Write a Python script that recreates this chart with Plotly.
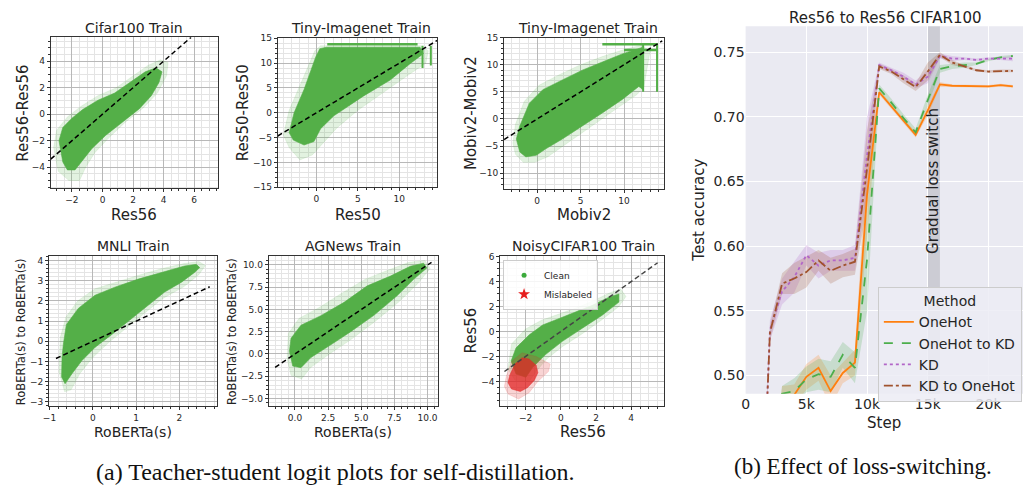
import plotly.graph_objects as go

W, H = 1023, 493

# ---------------- scatter clouds (outlines of dense core and sparse halo) ----------------
cifar_core_x = [-2.6, -2.85, -2.6, -2.0, -1.3, -0.3, 0.8, 1.9, 2.8, 3.5, 3.9, 3.7, 3.2, 2.4, 1.3, 0.2, -0.7, -1.35, -1.8, -2.3]
cifar_core_y = [-3.6, -2.0, -1.0, -0.3, 0.35, 1.05, 1.6, 2.5, 3.2, 3.5, 3.2, 2.4, 1.4, 0.4, -0.6, -1.6, -2.6, -3.6, -4.2, -4.2]
cifar_halo_x = [-2.9, -3.2, -3.0, -2.3, -1.4, -0.3, 0.9, 2.0, 3.0, 3.8, 4.3, 4.2, 3.6, 2.7, 1.5, 0.4, -0.5, -1.1, -1.5, -2.2]
cifar_halo_y = [-4.3, -2.5, -1.2, -0.2, 0.6, 1.4, 2.0, 2.9, 3.7, 4.1, 3.9, 2.9, 1.6, 0.5, -0.6, -1.8, -2.9, -4.0, -5.0, -5.0]

res50_core_x = [-3.3, -2.7, -1.5, -0.7, -0.1, 0.4, 1.2, 12.5, 12.9, 11.3, 8.9, 5.7, 2.1, 0.5, -0.3, -1.5, -2.8]
res50_core_y = [-4.0, 0.0, 4.7, 8.6, 11.2, 12.9, 13.2, 13.2, 11.9, 9.9, 6.6, 3.4, -0.6, -3.2, -5.8, -6.5, -5.5]
res50_halo_x = [-4.0, -3.3, -2.0, -1.0, -0.2, 0.5, 12.6, 13.5, 13.2, 11.0, 8.0, 5.0, 2.5, 0.8, -0.5, -2.0, -3.3]
res50_halo_y = [-4.5, 0.5, 5.5, 9.5, 12.5, 13.5, 13.5, 12.5, 10.0, 7.5, 4.0, 0.5, -3.0, -6.0, -8.5, -9.5, -7.0]
res50_hstripes = [(1.3, 12.2, 13.8)]
res50_vstripes = [(12.8, 9.0, 13.5), (13.8, 9.5, 13.5)]

mob_core_x = [-2.4, -2.0, -0.9, 0.65, 2.9, 5.2, 7.5, 9.8, 12.1, 12.2, 11.7, 9.8, 7.5, 5.2, 2.9, 1.0, -0.1, -1.3, -2.0]
mob_core_y = [-3.7, -1.3, 2.9, 5.4, 7.2, 9.0, 10.5, 12.0, 13.2, 5.4, 6.0, 3.6, 1.1, -1.3, -3.7, -5.5, -6.7, -7.0, -6.1]
mob_halo_x = [-2.8, -2.5, -1.5, 0.2, 2.6, 5.0, 7.5, 10.0, 12.0, 13.0, 12.3, 11.5, 9.5, 7.2, 5.0, 3.0, 1.2, -0.3, -1.6, -2.5]
mob_halo_y = [-4.5, -1.0, 3.2, 6.2, 8.2, 10.0, 11.5, 12.8, 13.6, 12.5, 6.0, 4.5, 2.3, -0.3, -2.7, -5.0, -7.0, -8.0, -8.0, -6.5]
mob_hstripes = [(7.5, 13.9, 13.8), (10.0, 13.9, 12.7)]
mob_vstripes = [(12.2, 5.0, 13.8), (13.8, 5.0, 13.8)]

mnli_core_x = [-0.71, -0.68, -0.61, -0.33, 0.05, 0.51, 1.05, 1.58, 2.12, 2.39, 2.47, 2.35, 2.05, 1.66, 1.2, 0.82, 0.44, 0.05, -0.25, -0.48, -0.64, -0.72]
mnli_core_y = [-0.8, -0.15, 0.83, 1.64, 2.28, 2.68, 3.08, 3.41, 3.73, 3.81, 3.65, 3.41, 2.93, 2.44, 1.64, 0.99, 0.34, -0.3, -0.95, -1.6, -2.1, -1.76]
mnli_halo_x = [-0.78, -0.75, -0.62, -0.35, 0.05, 0.55, 1.1, 1.6, 2.1, 2.45, 2.6, 2.45, 2.1, 1.6, 1.2, 0.8, 0.4, 0.0, -0.3, -0.5, -0.65]
mnli_halo_y = [-1.5, 0.2, 1.2, 2.0, 2.6, 2.95, 3.3, 3.6, 3.85, 3.95, 3.75, 3.3, 2.7, 2.1, 1.4, 0.7, 0.0, -0.8, -1.6, -2.4, -2.5]

ag_core_x = [-0.42, -0.3, 0.45, 1.95, 3.7, 5.45, 7.2, 8.7, 9.7, 9.95, 8.95, 7.7, 5.95, 4.2, 2.7, 1.2, 0.45, -0.17]
ag_core_y = [0.3, 1.76, 3.23, 4.3, 5.8, 7.65, 8.75, 9.85, 10.2, 9.66, 8.38, 6.54, 4.34, 2.5, 1.03, -0.4, -1.54, -1.36]
ag_halo_x = [-0.6, -0.5, 0.3, 1.8, 3.5, 5.3, 7.0, 8.6, 9.8, 10.2, 9.2, 7.8, 6.0, 4.2, 2.6, 1.2, 0.5, -0.3]
ag_halo_y = [-0.5, 2.3, 4.0, 5.2, 6.8, 8.4, 9.4, 10.3, 10.5, 9.6, 7.8, 5.8, 3.6, 1.6, 0.0, -1.5, -2.8, -2.4]

clean_core_x = [-2.82, -2.54, -1.79, -1.03, -0.09, 0.85, 1.79, 2.73, 3.3, 3.3, 2.35, 1.22, 0.09, -0.85, -1.6, -1.98, -2.54]
clean_core_y = [-2.36, -1.31, -0.27, 0.52, 1.04, 1.56, 2.09, 2.74, 3.0, 2.35, 1.3, 0.26, -0.79, -1.83, -2.88, -3.66, -3.4]
clean_halo_x = [-3.0, -2.8, -2.0, -1.1, -0.1, 0.9, 1.9, 2.8, 3.4, 3.7, 3.3, 2.3, 1.2, 0.1, -0.8, -1.4, -1.8, -2.6]
clean_halo_y = [-3.0, -1.0, 0.2, 0.9, 1.4, 1.9, 2.5, 3.1, 3.4, 2.8, 2.0, 0.9, -0.2, -1.2, -2.2, -3.2, -4.0, -3.9]
mis_core_x = [-2.9, -2.6, -2.2, -1.8, -1.4, -1.3, -1.5, -1.9, -2.3, -2.8, -3.0]
mis_core_y = [-3.5, -2.6, -2.1, -2.2, -2.7, -3.3, -3.9, -4.5, -4.8, -4.6, -4.1]
mis_halo_x = [-3.1, -2.8, -2.2, -1.4, -0.6, -0.7, -1.3, -1.8, -2.4, -3.0, -3.2]
mis_halo_y = [-3.6, -2.4, -1.7, -2.0, -2.6, -3.2, -4.0, -4.9, -5.4, -5.0, -4.4]

# ---------------- loss-switching curves ----------------
steps = [1000, 2000, 3000, 4000, 5000, 6000, 7000, 8000, 9000, 10000, 11000,
         12000, 13000, 14000, 15000, 16000, 17000, 18000, 19000, 20000, 21000, 22000]
onehot = [0.25, 0.40, 0.484, 0.485, 0.499, 0.506, 0.488, 0.502, 0.510, 0.640, 0.719,
          0.708, 0.697, 0.686, 0.705, 0.725, 0.724, 0.724, 0.724, 0.7235, 0.7245, 0.7235]
onehot_kd = [0.25, 0.40, 0.486, 0.488, 0.497, 0.501, 0.499, 0.516, 0.506, 0.590, 0.722,
             0.711, 0.699, 0.688, 0.713, 0.737, 0.739, 0.740, 0.741, 0.744, 0.746, 0.747]
kd = [0.30, 0.535, 0.565, 0.576, 0.593, 0.585, 0.589, 0.589, 0.591, 0.670, 0.740,
      0.736, 0.731, 0.725, 0.731, 0.747, 0.745, 0.745, 0.744, 0.745, 0.745, 0.745]
kd_onehot = [0.30, 0.533, 0.571, 0.575, 0.580, 0.589, 0.581, 0.585, 0.588, 0.660, 0.739,
             0.735, 0.729, 0.723, 0.735, 0.748, 0.742, 0.739, 0.736, 0.735, 0.7355, 0.7355]
onehot_sd = [0.0, 0.01, 0.008, 0.008, 0.01, 0.01, 0.012, 0.008, 0.01, 0.03, 0.002,
             0.002, 0.002, 0.002, 0.004, 0.002, 0.001, 0.001, 0.001, 0.001, 0.001, 0.001]
onehot_kd_sd = [0.0, 0.01, 0.006, 0.01, 0.01, 0.012, 0.012, 0.01, 0.012, 0.04, 0.003,
                0.003, 0.003, 0.003, 0.004, 0.003, 0.002, 0.002, 0.001, 0.001, 0.001, 0.001]
kd_sd = [0.0, 0.008, 0.01, 0.012, 0.008, 0.01, 0.008, 0.008, 0.01, 0.03, 0.002,
         0.002, 0.003, 0.003, 0.005, 0.002, 0.002, 0.001, 0.001, 0.001, 0.001, 0.002]
kd_onehot_sd = [0.0, 0.006, 0.008, 0.012, 0.012, 0.008, 0.01, 0.009, 0.01, 0.03, 0.002,
                0.002, 0.003, 0.003, 0.007, 0.002, 0.002, 0.001, 0.001, 0.001, 0.001, 0.001]
switch_window = [15000, 16000]
x_ticks = [0, 5000, 10000, 15000, 20000]
x_tick_text = ["0", "5k", "10k", "15k", "20k"]
y_ticks = [0.50, 0.55, 0.60, 0.65, 0.70, 0.75]

GREEN = "rgb(84,175,72)"
GREEN_HALO = "rgba(84,175,72,0.17)"
RED = "rgba(226,38,38,0.75)"
RED_HALO = "rgba(226,38,38,0.2)"
FONT = "DejaVu Sans"

fig = go.Figure()


def dom_x(a, b):
    return [a / W, b / W]


def dom_y(top, bottom):
    return [1 - bottom / H, 1 - top / H]


# panel definitions: axis suffix, pixel box, ranges, major/minor steps, tick format, diagonal span
panels = [
    dict(n="", box=(45, 213, 33, 187), xr=[-3.39, 7.55], yr=[-5.58, 5.8], xd=2, yd=2, xm=0.5, ym=0.5, fmt="", diag=[-3.39, 5.8]),
    dict(n="2", box=(273.3, 434, 34, 186), xr=[-4.68, 14.6], yr=[-15, 15], xd=5, yd=5, xm=1, ym=1, fmt="", diag=[-4.68, 14.6]),
    dict(n="3", box=(501, 661.7, 33.3, 187.7), xr=[-3.81, 14.58], yr=[-12.9, 15], xd=5, yd=5, xm=1, ym=1, fmt="", diag=[-3.81, 14.4]),
    dict(n="4", box=(43.3, 212.3, 256.7, 409.3), xr=[-1.01, 2.87], yr=[-3.2, 4.2], xd=1, yd=1, xm=0.2, ym=0.2, fmt="", diag=[-0.85, 2.7]),
    dict(n="5", box=(264.3, 434.3, 256.7, 409.3), xr=[-1.98, 10.77], yr=[-5.84, 10.95], xd=2.5, yd=2.5, xm=0.5, ym=0.5, fmt=".1f", diag=[-1.5, 10.3]),
    dict(n="6", box=(497.3, 661.7, 256.7, 409.3), xr=[-3.43, 5.85], yr=[-5.96, 6.0], xd=2, yd=2, xm=0.5, ym=0.5, fmt="", diag=[-3.2, 5.5]),
]

clouds = [
    [(cifar_halo_x, cifar_halo_y, GREEN_HALO), (cifar_core_x, cifar_core_y, GREEN)],
    [(res50_halo_x, res50_halo_y, GREEN_HALO), (res50_core_x, res50_core_y, GREEN)],
    [(mob_halo_x, mob_halo_y, GREEN_HALO), (mob_core_x, mob_core_y, GREEN)],
    [(mnli_halo_x, mnli_halo_y, GREEN_HALO), (mnli_core_x, mnli_core_y, GREEN)],
    [(ag_halo_x, ag_halo_y, GREEN_HALO), (ag_core_x, ag_core_y, GREEN)],
    [(clean_halo_x, clean_halo_y, GREEN_HALO), (clean_core_x, clean_core_y, GREEN),
     (mis_halo_x, mis_halo_y, RED_HALO), (mis_core_x, mis_core_y, RED)],
]
stripes = {1: (res50_hstripes, res50_vstripes), 2: (mob_hstripes, mob_vstripes)}

layout_axes = {}
for i, p in enumerate(panels):
    xa, ya = "x" + p["n"], "y" + p["n"]
    for xs, ys, col in clouds[i]:
        fig.add_trace(go.Scatter(x=xs + xs[:1], y=ys + ys[:1], mode="lines", fill="toself",
                                 fillcolor=col, line=dict(width=0.6, color=col),
                                 hoverinfo="skip", showlegend=False, xaxis=xa, yaxis=ya))
    if i in stripes:
        hs, vs = stripes[i]
        for x0, x1, yv in hs:
            fig.add_trace(go.Scatter(x=[x0, x1], y=[yv, yv], mode="lines",
                                     line=dict(color=GREEN, width=2.5), showlegend=False,
                                     hoverinfo="skip", xaxis=xa, yaxis=ya))
        for xv, y0, y1 in vs:
            fig.add_trace(go.Scatter(x=[xv, xv], y=[y0, y1], mode="lines",
                                     line=dict(color=GREEN, width=2), showlegend=False,
                                     hoverinfo="skip", xaxis=xa, yaxis=ya))
    dcol = "#444444" if i == 5 else "black"
    fig.add_trace(go.Scatter(x=p["diag"], y=p["diag"], mode="lines",
                             line=dict(color=dcol, width=1.5, dash="5px,3px"),
                             showlegend=False, hoverinfo="skip", xaxis=xa, yaxis=ya))
    l, r, t, b = p["box"]
    common = dict(showline=True, mirror=True, linecolor="#333333", linewidth=1,
                  ticks="outside", ticklen=3, tickwidth=0.8, tickcolor="#333333",
                  showgrid=True, gridcolor="#b8b8b8", gridwidth=0.8, zeroline=False,
                  tickfont=dict(family=FONT, size=9, color="#262626"),
                  tickformat=p["fmt"])
    xname = "xaxis" + p["n"]
    yname = "yaxis" + p["n"]
    layout_axes[xname] = dict(common, domain=dom_x(l, r), range=p["xr"], anchor=ya,
                              tick0=0, dtick=p["xd"],
                              minor=dict(tick0=0, dtick=p["xm"], ticks="outside", ticklen=2,
                                         tickcolor="#333333", showgrid=True,
                                         gridcolor="#e4e4e4", gridwidth=0.5))
    layout_axes[yname] = dict(common, domain=dom_y(t, b), range=p["yr"], anchor=xa,
                              tick0=0, dtick=p["yd"],
                              minor=dict(tick0=0, dtick=p["ym"], ticks="outside", ticklen=2,
                                         tickcolor="#333333", showgrid=True,
                                         gridcolor="#e4e4e4", gridwidth=0.5))

# legend entries for the noisy-label panel
fig.add_trace(go.Scatter(x=[None], y=[None], mode="markers", name="Clean",
                         marker=dict(color="rgb(60,170,60)", size=5, symbol="circle"),
                         legend="legend2", xaxis="x6", yaxis="y6"))
fig.add_trace(go.Scatter(x=[None], y=[None], mode="markers", name="Mislabeled",
                         marker=dict(color="rgb(230,30,30)", size=9, symbol="star"),
                         legend="legend2", xaxis="x6", yaxis="y6"))

# ---------------- right panel: accuracy curves ----------------
series = [
    ("OneHot", onehot, onehot_sd, "#ff7f0e", "solid", "255,127,14"),
    ("OneHot to KD", onehot_kd, onehot_kd_sd, "#4cae4c", "dash", "76,174,76"),
    ("KD", kd, kd_sd, "#b266c8", "dot", "178,102,200"),
    ("KD to OneHot", kd_onehot, kd_onehot_sd, "#a0522d", "dashdot", "160,82,45"),
]
for name, m, sd, col, dash, rgb in series:
    lo = [a - s for a, s in zip(m, sd)]
    hi = [a + s for a, s in zip(m, sd)]
    fig.add_trace(go.Scatter(x=steps, y=lo, mode="lines", line=dict(width=0),
                             showlegend=False, hoverinfo="skip", xaxis="x7", yaxis="y7"))
    fig.add_trace(go.Scatter(x=steps, y=hi, mode="lines", line=dict(width=0), fill="tonexty",
                             fillcolor=f"rgba({rgb},0.22)", showlegend=False,
                             hoverinfo="skip", xaxis="x7", yaxis="y7"))
for name, m, sd, col, dash, rgb in series:
    fig.add_trace(go.Scatter(x=steps, y=m, mode="lines", name=name,
                             line=dict(color=col, width=1.8, dash=dash),
                             legend="legend", xaxis="x7", yaxis="y7"))

layout_axes["xaxis7"] = dict(domain=dom_x(744, 1023), range=[0, 22840], anchor="y7",
                             tickvals=x_ticks, ticktext=x_tick_text, showgrid=True,
                             gridcolor="white", gridwidth=1.2, zeroline=False, showline=False,
                             ticks="", tickfont=dict(family=FONT, size=14, color="#262626"))
layout_axes["yaxis7"] = dict(domain=dom_y(21.7, 396.7), range=[0.486, 0.770], anchor="x7",
                             tickvals=y_ticks, tickformat=".2f", showgrid=True,
                             gridcolor="white", gridwidth=1.2, zeroline=False, showline=False,
                             ticks="", tickfont=dict(family=FONT, size=14, color="#262626"))

shapes = [
    dict(type="rect", xref="x7 domain", yref="y7 domain", x0=0, x1=1, y0=0, y1=1,
         fillcolor="#EAEAF2", line=dict(width=0), layer="below"),
    dict(type="rect", xref="x7", yref="y7 domain", x0=switch_window[0], x1=switch_window[1],
         y0=0, y1=1, fillcolor="rgba(150,150,158,0.35)", line=dict(width=0), layer="below"),
]


def ann(text, xp, yp, size, angle=0, family=FONT, color="#222222"):
    return dict(text=text, x=xp / W, y=1 - yp / H, xref="paper", yref="paper",
                showarrow=False, textangle=angle, xanchor="center", yanchor="middle",
                font=dict(family=family, size=size, color=color))


annotations = [
    ann("Cifar100 Train", 129, 23, 14),
    ann("Tiny-Imagenet Train", 357, 23, 14),
    ann("Tiny-Imagenet Train", 585, 23, 14),
    ann("MNLI Train", 128, 246, 14),
    ann("AGNews Train", 349, 246, 14),
    ann("NoisyCIFAR100 Train", 581, 246, 14),
    ann("Res56", 129, 214, 15),
    ann("Res50", 354, 214, 15),
    ann("Mobiv2", 581, 214, 15),
    ann("RoBERTa(s)", 128, 436, 14),
    ann("RoBERTa(s)", 349, 436, 14),
    ann("Res56", 580, 436, 15),
    ann("Res56-Res56", 17, 110, 15, -90),
    ann("Res50-Res50", 238, 110, 15, -90),
    ann("Mobiv2-Mobiv2", 468, 110, 15, -90),
    ann("RoBERTa(s) to RoBERTa(s)", 15, 333, 11.5, -90),
    ann("RoBERTa(s) to RoBERTa(s)", 228, 333, 11.5, -90),
    ann("Res56", 468, 332, 15, -90),
    ann("Res56 to Res56 CIFAR100", 885, 13, 15),
    ann("Test accuracy", 697, 209, 15, -90),
    ann("Step", 883, 427, 15),
    ann("Gradual loss switch", 933, 180, 15, -90),
    ann("(a) Teacher-student logit plots for self-distillation.", 331, 477, 24,
        family="Liberation Serif", color="#111111"),
    ann("(b) Effect of loss-switching.", 862, 471, 23,
        family="Liberation Serif", color="#111111"),
]

fig.update_layout(
    width=W, height=H, margin=dict(l=0, r=0, t=0, b=0),
    paper_bgcolor="white", plot_bgcolor="white",
    font=dict(family=FONT, color="#262626"),
    shapes=shapes, annotations=annotations,
    legend=dict(x=877 / W, y=1 - 288 / H, xanchor="left", yanchor="top",
                bgcolor="rgba(236,236,244,0.85)", bordercolor="#cccccc", borderwidth=1,
                font=dict(family=FONT, size=14, color="#262626"),
                title=dict(text="Method", side="top center",
                           font=dict(family=FONT, size=14, color="#262626")),
                itemwidth=30, tracegroupgap=0, traceorder="normal"),
    legend2=dict(x=500 / W, y=1 - 260 / H, xanchor="left", yanchor="top",
                 bgcolor="rgba(255,255,255,0.85)", bordercolor="#cccccc", borderwidth=1,
                 font=dict(family=FONT, size=9, color="#262626"), itemwidth=30,
                 tracegroupgap=0, traceorder="normal"),
    **layout_axes,
)

fig.write_html("out.html")
